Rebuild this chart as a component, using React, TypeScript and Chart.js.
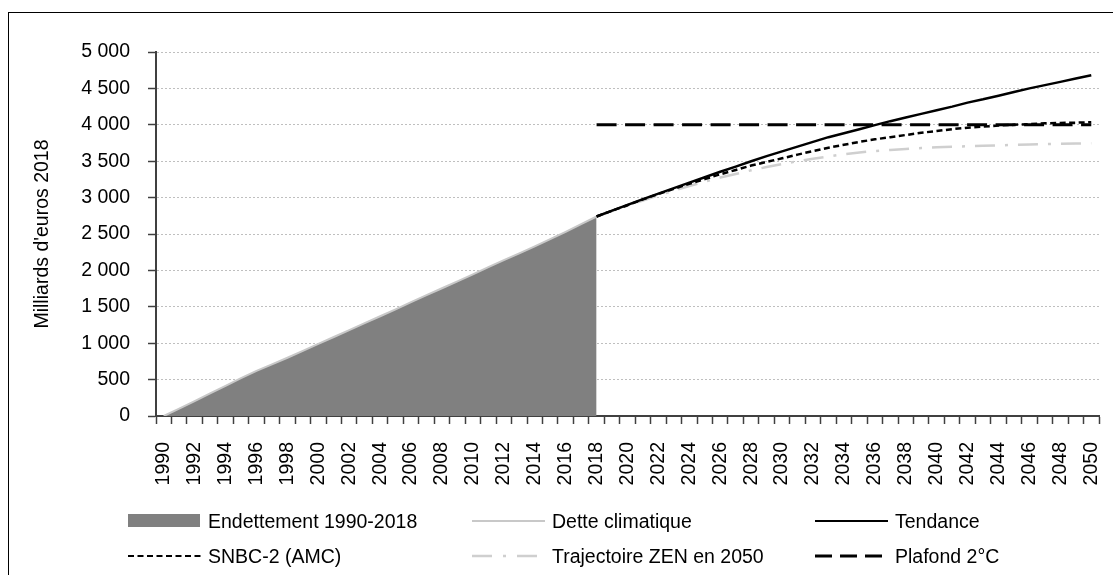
import React, { useEffect, useRef } from "react";
import { Chart, registerables } from "chart.js";

Chart.register(...registerables);

// Categories
const years: string[] = Array.from({ length: 61 }, (_, i) => String(1990 + i));

// Endettement 1990-2018 (area)
const endettement = [
  0, 100, 205, 310, 415, 520, 620, 710, 800, 895, 990, 1085, 1180, 1275, 1370,
  1465, 1565, 1660, 1755, 1850, 1945, 2045, 2140, 2235, 2330, 2430, 2530, 2635, 2740,
];
// Dette climatique 1990-2021
const detteClimatique = [...endettement, 2820, 2895, 2970];
// Scenarios 2018-2050
const tendance = [
  2740, 2820, 2900, 2980, 3055, 3130, 3205, 3280, 3355, 3425, 3500, 3570, 3635,
  3700, 3765, 3830, 3885, 3940, 3995, 4050, 4100, 4150, 4200, 4250, 4305, 4350,
  4400, 4450, 4500, 4545, 4590, 4635, 4680,
];
const snbc2 = [
  2740, 2820, 2895, 2975, 3050, 3120, 3190, 3255, 3320, 3380, 3440, 3490, 3540,
  3590, 3640, 3685, 3725, 3765, 3800, 3830, 3860, 3890, 3915, 3940, 3960, 3975,
  3990, 4000, 4010, 4020, 4025, 4030, 4035,
];
const zen2050 = [
  2740, 2815, 2890, 2960, 3030, 3095, 3160, 3220, 3275, 3325, 3375, 3420, 3460,
  3500, 3535, 3565, 3595, 3620, 3640, 3655, 3668, 3680, 3690, 3698, 3705, 3712,
  3718, 3724, 3730, 3735, 3740, 3743, 3745,
];
const plafond2C = Array.from({ length: 33 }, () => 4000);

// Y tick values
const yMin = 0;
const yMax = 5000;
const yStep = 500;

const pad = (arr: number[], start: number) =>
  years.map((_, i) => (i - start >= 0 && i - start < arr.length ? arr[i - start] : null));

const fmt = (v: number) => String(v).replace(/\B(?=(\d{3})+(?!\d))/g, " ");

const FONT = "'Liberation Sans', Arial, sans-serif";
const FS = 19.5;

const legendItems = [
  { label: "Endettement 1990-2018", kind: "area", x: 119, row: 0 },
  { label: "Dette climatique", kind: "gray", x: 463, row: 0 },
  { label: "Tendance", kind: "solid", x: 806, row: 0 },
  { label: "SNBC-2 (AMC)", kind: "dash", x: 119, row: 1 },
  { label: "Trajectoire ZEN en 2050", kind: "dashdot", x: 463, row: 1 },
  { label: "Plafond 2°C", kind: "longdash", x: 806, row: 1 },
];

function Swatch({ kind }: { kind: string }) {
  const w = 73;
  if (kind === "area")
    return (
      <svg width={w} height={16} style={{ display: "block" }}>
        <rect x={0} y={1} width={72} height={13} fill="#808080" />
      </svg>
    );
  const props: any = { x1: 0, x2: 73, y1: 8, y2: 8, strokeWidth: 2 };
  if (kind === "gray") { props.stroke = "#c8c8c8"; }
  if (kind === "solid") { props.stroke = "#000"; }
  if (kind === "dash") { props.stroke = "#000"; props.strokeDasharray = "6 3.5"; }
  if (kind === "dashdot") { props.stroke = "#cfcfcf"; props.strokeWidth = 2.5; props.strokeDasharray = "20 11 3 11"; }
  if (kind === "longdash") { props.stroke = "#000"; props.strokeWidth = 3; props.strokeDasharray = "17 8"; }
  return (
    <svg width={w} height={16} style={{ display: "block" }}>
      <line {...props} />
    </svg>
  );
}

export default function App() {
  const ref = useRef<HTMLCanvasElement>(null);
  useEffect(() => {
    if (!ref.current) return;
    const chart = new Chart(ref.current, {
      type: "line",
      data: {
        labels: years,
        datasets: [
          {
            label: "Tendance",
            data: pad(tendance, 28),
            borderColor: "#000",
            borderWidth: 2.5,
            pointRadius: 0,
            fill: false,
            order: 0,
          },
          {
            label: "SNBC-2 (AMC)",
            data: pad(snbc2, 28),
            borderColor: "#000",
            borderWidth: 2.5,
            borderDash: [6, 3.5],
            pointRadius: 0,
            fill: false,
            order: 1,
          },
          {
            label: "Plafond 2°C",
            data: pad(plafond2C, 28),
            borderColor: "#000",
            borderWidth: 3,
            borderDash: [20, 8.5],
            pointRadius: 0,
            fill: false,
            order: 2,
          },
          {
            label: "Trajectoire ZEN en 2050",
            data: pad(zen2050, 28),
            borderColor: "#cfcfcf",
            borderWidth: 2.5,
            borderDash: [20, 10, 3, 10],
            pointRadius: 0,
            fill: false,
            order: 3,
          },
          {
            label: "Dette climatique",
            data: pad(detteClimatique, 0),
            borderColor: "#c8c8c8",
            borderWidth: 2,
            pointRadius: 0,
            fill: false,
            order: 4,
          },
          {
            label: "Endettement 1990-2018",
            data: pad(endettement, 0),
            borderColor: "rgba(0,0,0,0)",
            borderWidth: 0,
            backgroundColor: "#808080",
            pointRadius: 0,
            fill: "origin",
            order: 5,
          },
        ],
      },
      options: {
        animation: false,
        responsive: false,
        devicePixelRatio: 1,
        spanGaps: false,
        layout: { padding: { left: 18, top: 39, right: 13, bottom: 89 } },
        plugins: { legend: { display: false }, tooltip: { enabled: false } },
        scales: {
          x: {
            type: "category",
            offset: true,
            grid: {
              display: true,
              offset: true,
              drawOnChartArea: false,
              drawTicks: true,
              tickLength: 8,
              tickColor: "#404040",
              tickWidth: 1.5,
            },
            border: { display: true, color: "#404040", width: 2 },
            ticks: {
              autoSkip: false,
              minRotation: 90,
              maxRotation: 90,
              padding: 18,
              color: "#000",
              font: { family: FONT, size: FS },
              callback: (_v: any, i: number) => (i % 2 === 0 ? years[i] : ""),
            },
            afterFit: (s: any) => {
              s.height = 70;
              s.paddingLeft = 0;
              s.paddingRight = 0;
            },
          },
          y: {
            min: yMin,
            max: yMax,
            grid: {
              color: "#bfbfbf",
              lineWidth: 1,
              drawTicks: true,
              tickLength: 8,
              tickColor: "#404040",
              tickWidth: 1.5,
            },
            border: { display: true, color: "#404040", width: 2, dash: [2, 2] },
            ticks: {
              stepSize: yStep,
              padding: 18,
              color: "#000",
              font: { family: FONT, size: FS },
              callback: (v: any) => fmt(Number(v)),
            },
            title: {
              display: true,
              text: "Milliards d'euros 2018",
              color: "#000",
              font: { family: FONT, size: FS },
              padding: { top: 4, bottom: 4 },
            },
            afterFit: (s: any) => {
              s.width = 129;
              s.paddingTop = 0;
              s.paddingBottom = 0;
            },
          },
        },
      },
    } as any);
    return () => chart.destroy();
  }, []);

  return (
    <div
      style={{
        position: "fixed",
        left: 8,
        top: 12,
        width: 1110,
        height: 570,
        border: "1px solid #000",
        background: "#fff",
      }}
    >
      <canvas ref={ref} width={1103} height={562} style={{ display: "block" }} />
      {legendItems.map((it) => (
        <div
          key={it.label}
          style={{
            position: "absolute",
            left: it.x,
            top: 496 + it.row * 35,
            height: 24,
            display: "flex",
            alignItems: "center",
            fontFamily: FONT,
            fontSize: FS,
            color: "#000",
            whiteSpace: "nowrap",
          }}
        >
          <Swatch kind={it.kind} />
          <span style={{ marginLeft: 7 }}>{it.label}</span>
        </div>
      ))}
    </div>
  );
}
